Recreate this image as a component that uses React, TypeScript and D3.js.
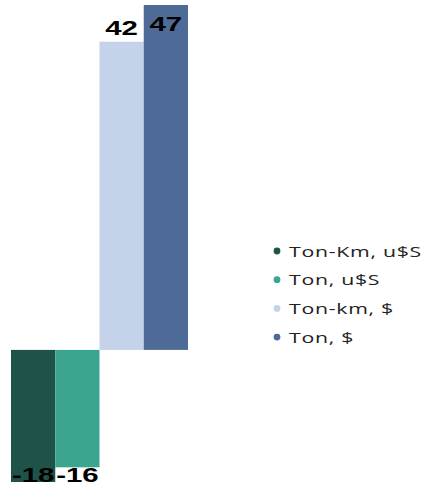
import React from "react";
import * as d3 from "d3";

const categories = ["Ton-Km, u$S", "Ton, u$S", "Ton-km, $", "Ton, $"];
const values = [-18, -16, 42, 47];
const colors = ["#1f5349", "#3ba58f", "#c4d2ea", "#4e6a97"];

const W = 428;
const H = 485;

export default function App() {
  const x = d3.scaleBand<string>().domain(categories).range([11, 188]).padding(0);
  const y = d3.scaleLinear().domain([-18, 47]).range([482, 5]);
  const labelSize = 21;
  const stretch = 1.4;

  const legendX = 277;
  const legendY0 = 251;
  const legendStep = 28.7;

  return (
    <svg width={W} height={H} style={{ position: "absolute", left: 0, top: 0, background: "#fff" }}>
      {categories.map((c, i) => {
        const v = values[i];
        const y0 = y(0);
        const yv = y(v);
        return (
          <rect
            key={c}
            x={x(c)}
            width={x.bandwidth()}
            y={Math.min(y0, yv)}
            height={Math.abs(yv - y0)}
            fill={colors[i]}
          />
        );
      })}
      {categories.map((c, i) => {
        const v = values[i];
        const cx = (x(c) as number) + x.bandwidth() / 2;
        const yv = y(v);
        const ly = v >= 0 ? Math.max(yv - 7, 6 + labelSize + 4) : Math.min(yv + labelSize - 2, H - 3);
        return (
          <text
            key={"l" + c}
            transform={`translate(${cx},${ly}) scale(${stretch},1)`}
            textAnchor="middle"
            fontFamily="'Liberation Sans', Arial, sans-serif"
            fontWeight="bold"
            fontSize={labelSize}
            fill="#000"
          >
            {String(v)}
          </text>
        );
      })}
      {categories.map((c, i) => (
        <g key={"g" + c} transform={`translate(${legendX},${legendY0 + i * legendStep})`}>
          <circle r={3.4} fill={colors[i]} />
          <text
            transform={`translate(12,5.5) scale(1.42,1)`}
            fontFamily="'Open Sans', sans-serif"
            fontWeight={500}
            fontSize={15}
            letterSpacing={0.5}
            fill="#222"
          >
            {c}
          </text>
        </g>
      ))}
    </svg>
  );
}
